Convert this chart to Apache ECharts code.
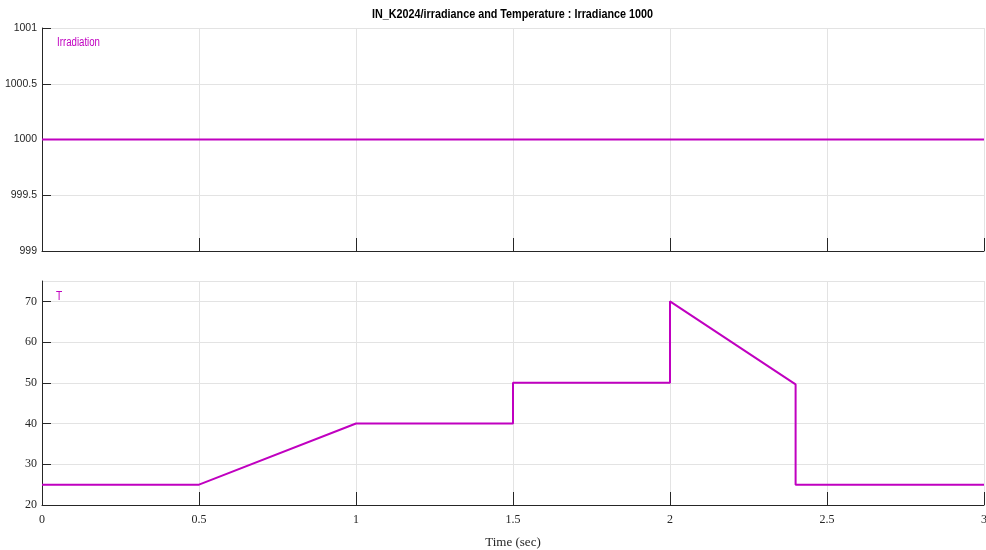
<!DOCTYPE html>
<html>
<head>
<meta charset="utf-8">
<script src="https://cdn.jsdelivr.net/npm/echarts@6/dist/echarts.min.js"></script>
<style>
html,body{margin:0;padding:0;background:#fff;}
#c{width:986px;height:550px;}
</style>
</head>
<body>
<div id="c"></div>
<script>
const titleText = 'IN_K2024/irradiance and Temperature : Irradiance 1000';
const irrTime = [0, 3];
const irrValues = [1000, 1000];
const tempTime = [0, 0.5, 1, 1.5, 1.5, 2, 2, 2.4, 2.4, 3];
const tempValues = [25, 25, 40, 40, 50, 50, 70, 49.6, 25, 25];
const irrName = 'Irradiation';
const tempName = 'T';
const xLabel = 'Time (sec)';

const sans = "'Liberation Sans',Arial,sans-serif";
const serif = "'Liberation Serif','Times New Roman',serif";
const lineColor = '#c000c0';
const axisColor = '#262626';
const gridColor = '#e3e3e3';

// measure to emulate a narrow sans face via horizontal scaling
const mctx = document.createElement('canvas').getContext('2d');
function measure(text, font) { mctx.font = font; return mctx.measureText(text).width; }
const titleFont = 'bold 12px ' + sans;
const titleScale = 281 / measure(titleText, titleFont);
const labFont = '12px ' + sans;
const irrScale = 43 / measure(irrName, labFont);

const chart = echarts.init(document.getElementById('c'), null, {renderer: 'canvas'});

function xAxisCfg(idx, showLabels) {
  return {
    type: 'value', gridIndex: idx, min: 0, max: 3, interval: 0.5,
    axisLine: {show: true, onZero: false, lineStyle: {color: axisColor, width: 1}},
    axisTick: {show: true, inside: true, length: 13, lineStyle: {color: axisColor}},
    axisLabel: {show: showLabels, fontFamily: serif, fontSize: 12, color: axisColor, margin: 9},
    splitLine: {show: true, lineStyle: {color: gridColor, width: 1}},
    name: showLabels ? xLabel : '', nameLocation: 'middle', nameGap: 31,
    nameTextStyle: {fontFamily: serif, fontSize: 13, color: axisColor}
  };
}

chart.setOption({
  animation: false,
  grid: [
    {left: 42, top: 28, width: 942, height: 223, containLabel: false, outerBoundsMode: 'none'},
    {left: 42, top: 281, width: 942, height: 224, containLabel: false, outerBoundsMode: 'none'}
  ],
  xAxis: [xAxisCfg(0, false), xAxisCfg(1, true)],
  yAxis: [
    {
      type: 'value', gridIndex: 0, min: 999, max: 1001, interval: 0.5,
      axisLine: {show: true, lineStyle: {color: axisColor}},
      axisTick: {show: true, inside: true, length: 9, lineStyle: {color: axisColor}},
      axisLabel: {fontFamily: sans, fontSize: 10.5, color: axisColor, margin: 5,
        formatter: v => String(Math.round(v * 10) / 10)},
      splitLine: {show: true, lineStyle: {color: gridColor}}
    },
    {
      type: 'value', gridIndex: 1, min: 20, max: 75, interval: 10,
      axisLine: {show: true, lineStyle: {color: axisColor}},
      axisTick: {show: true, inside: true, length: 9, lineStyle: {color: axisColor}},
      axisLabel: {fontFamily: serif, fontSize: 12, color: axisColor, margin: 5, showMaxLabel: false,
        formatter: v => (v === 75 ? '' : String(v))},
      splitLine: {show: true, lineStyle: {color: gridColor}}
    }
  ],
  series: [
    {
      type: 'line', xAxisIndex: 0, yAxisIndex: 0, name: irrName,
      data: irrTime.map((t, i) => [t, irrValues[i]]),
      showSymbol: false, lineStyle: {color: lineColor, width: 2}, itemStyle: {color: lineColor}
    },
    {
      type: 'line', xAxisIndex: 1, yAxisIndex: 1, name: tempName,
      data: tempTime.map((t, i) => [t, tempValues[i]]),
      showSymbol: false, lineStyle: {color: lineColor, width: 2}, itemStyle: {color: lineColor}
    }
  ],
  graphic: [
    {type: 'text', x: 512.5, y: 9, scaleX: titleScale,
      style: {text: titleText, fill: '#000', font: titleFont, textAlign: 'center', textVerticalAlign: 'top'}},
    {type: 'text', x: 57, y: 37, scaleX: irrScale,
      style: {text: irrName, fill: lineColor, font: labFont, textVerticalAlign: 'top'}},
    {type: 'text', x: 56, y: 291, scaleX: 0.85,
      style: {text: tempName, fill: lineColor, font: labFont, textVerticalAlign: 'top'}}
  ]
});
</script>
</body>
</html>
